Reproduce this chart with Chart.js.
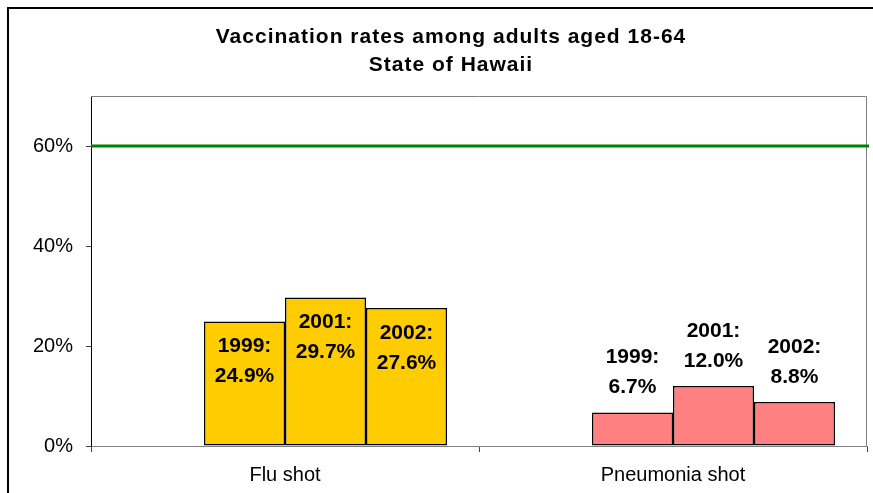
<!DOCTYPE html>
<html>
<head>
<meta charset="utf-8">
<script src="https://cdn.jsdelivr.net/npm/chart.js@4.4.1/dist/chart.umd.min.js"></script>
<style>
  html, body { margin: 0; padding: 0; background: #fff; }
  #wrap { width: 873px; height: 493px; position: relative; }
</style>
</head>
<body>
<div id="wrap"><canvas id="c" width="873" height="493"></canvas></div>
<script>
const categories = ['Flu shot', 'Pneumonia shot'];
const years = ['1999', '2001', '2002'];
const rate1999 = [24.9, 6.7];
const rate2001 = [29.7, 12.0];
const rate2002 = [27.6, 8.8];
const spacer = [null, null];
const targetRate = 60;
const yTickValues = [0, 20, 40, 60];
const yMax = 70;
const titleLines = ['Vaccination rates among adults aged 18-64', 'State of Hawaii'];
const categoryColors = ['#FFCC00', '#FF8080'];
const labelPlacement = ['inside', 'outside'];

const FONT = "'Liberation Sans', Arial, sans-serif";
Chart.defaults.font.family = FONT;
Chart.defaults.color = '#000';

const seriesValues = [rate1999, rate2001, rate2002];

const datasets = [{
  label: '',
  data: spacer,
  backgroundColor: 'rgba(0,0,0,0)',
  borderWidth: 0
}].concat(seriesValues.map((vals, i) => ({
  label: years[i],
  data: vals,
  backgroundColor: categoryColors,
  borderColor: '#000',
  borderWidth: 1.5,
  borderSkipped: false
})));

const framePlugin = {
  id: 'frame',
  beforeDraw(chart) {
    const ctx = chart.ctx;
    ctx.save();
    ctx.fillStyle = '#fff';
    ctx.fillRect(0, 0, chart.width, chart.height);
    ctx.strokeStyle = '#000';
    ctx.lineWidth = 2;
    ctx.beginPath();
    ctx.moveTo(8, chart.height);
    ctx.lineTo(8, 8);
    ctx.lineTo(chart.width, 8);
    ctx.stroke();
    ctx.restore();
  },
  afterDraw(chart) {
    const ctx = chart.ctx;
    const a = chart.chartArea;
    ctx.save();
    ctx.strokeStyle = '#808080';
    ctx.lineWidth = 1;
    ctx.beginPath();
    ctx.moveTo(a.left, a.top + 0.5);
    ctx.lineTo(a.right - 0.5, a.top + 0.5);
    ctx.lineTo(a.right - 0.5, a.bottom);
    ctx.stroke();
    // target line
    const y = chart.scales.y.getPixelForValue(targetRate);
    ctx.strokeStyle = '#008000';
    ctx.lineWidth = 3;
    ctx.beginPath();
    ctx.moveTo(a.left, y);
    ctx.lineTo(a.right + 2, y);
    ctx.stroke();
    // title (Excel-like letter spacing, centred on the full chart frame)
    ctx.fillStyle = '#000';
    ctx.font = "bold 21px " + FONT;
    ctx.textAlign = 'center';
    ctx.textBaseline = 'middle';
    if ('letterSpacing' in ctx) ctx.letterSpacing = '1px';
    titleLines.forEach((t, i) => ctx.fillText(t, 451, 37 + i * 28));
    ctx.restore();
  },
  afterDatasetsDraw(chart) {
    const ctx = chart.ctx;
    ctx.save();
    ctx.font = "bold 21px " + FONT;
    ctx.fillStyle = '#000';
    ctx.textAlign = 'center';
    ctx.textBaseline = 'middle';
    for (let d = 1; d < chart.data.datasets.length; d++) {
      const meta = chart.getDatasetMeta(d);
      const ds = chart.data.datasets[d];
      meta.data.forEach((bar, j) => {
        const v = ds.data[j];
        const line1 = ds.label + ':';
        const line2 = v.toFixed(1) + '%';
        let y1, y2;
        if (labelPlacement[j] === 'inside') {
          y1 = bar.y + 25; y2 = y1 + 30;
        } else {
          y2 = bar.y - 25; y1 = y2 - 30;
        }
        ctx.fillText(line1, bar.x, y1);
        ctx.fillText(line2, bar.x, y2);
      });
    }
    ctx.restore();
  }
};

new Chart(document.getElementById('c'), {
  type: 'bar',
  data: { labels: categories, datasets },
  options: {
    responsive: false,
    animation: false,
    layout: { padding: { top: 0, right: 6, bottom: 6, left: 0 } },
    datasets: { bar: { categoryPercentage: 0.835, barPercentage: 1.0 } },
    plugins: {
      legend: { display: false },
      tooltip: { enabled: false },
      title: {
        display: true,
        text: titleLines,
        color: 'rgba(0,0,0,0)',
        font: { size: 21, weight: 'bold', family: FONT, lineHeight: 28 / 21 },
        padding: { top: 23, bottom: 17 }
      }
    },
    scales: {
      x: {
        offset: true,
        grid: { offset: true, drawOnChartArea: false, drawTicks: true, tickLength: 6, color: '#404040' },
        border: { color: '#808080', width: 1 },
        ticks: { font: { size: 20 }, color: '#000', padding: 11, maxRotation: 0 },
        afterFit: s => { s.height = 41; }
      },
      y: {
        min: 0,
        max: yMax,
        afterBuildTicks: s => { s.ticks = yTickValues.map(v => ({ value: v })); },
        afterFit: s => { s.width = 91; },
        grid: { drawOnChartArea: false, drawTicks: true, tickLength: 5, color: '#404040' },
        border: { color: '#000', width: 1 },
        ticks: { font: { size: 20 }, color: '#000', padding: 13, callback: v => v + '%' }
      }
    }
  },
  plugins: [framePlugin]
});
</script>
</body>
</html>
